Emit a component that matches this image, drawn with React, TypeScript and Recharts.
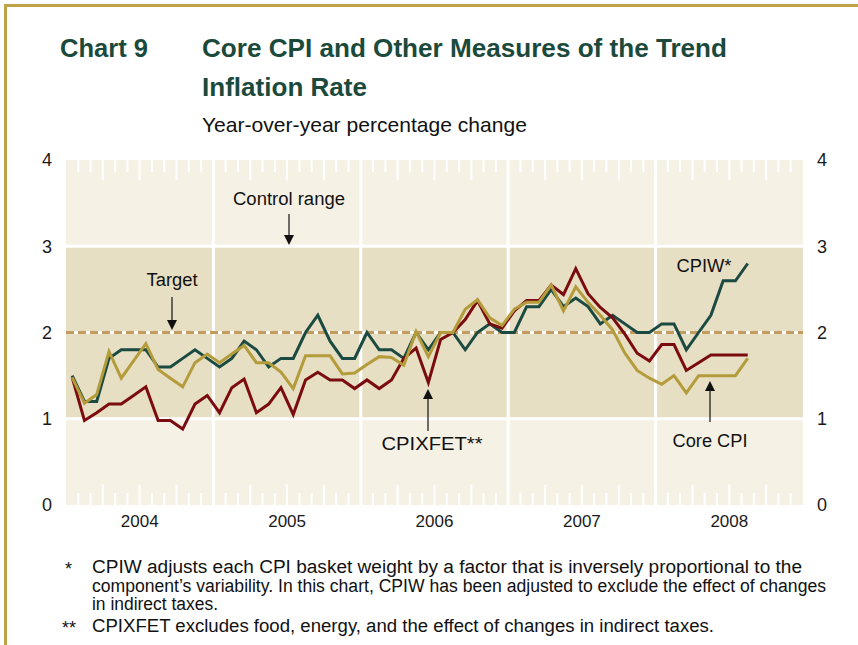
import React from 'react';
import { LineChart, Line, XAxis, YAxis, ReferenceArea, ReferenceLine } from 'recharts';

// monthly, Jan 2004 .. Aug 2008
const years = [2004, 2005, 2006, 2007, 2008];
const cpiw = [
  1.5, 1.2, 1.2, 1.7, 1.8, 1.8, 1.8, 1.6, 1.6, 1.7, 1.8, 1.7,
  1.6, 1.7, 1.9, 1.8, 1.6, 1.7, 1.7, 2.0, 2.2, 1.9, 1.7, 1.7,
  2.0, 1.8, 1.8, 1.7, 2.0, 1.8, 2.0, 2.0, 1.8, 2.0, 2.1, 2.0,
  2.0, 2.3, 2.3, 2.5, 2.3, 2.4, 2.3, 2.1, 2.2, 2.1, 2.0, 2.0,
  2.1, 2.1, 1.8, 2.0, 2.2, 2.6, 2.6, 2.8,
];
const cpixfet = [
  1.48, 0.98, 1.07, 1.17, 1.17, 1.27, 1.37, 0.98, 0.98, 0.88, 1.17, 1.27,
  1.07, 1.36, 1.46, 1.07, 1.17, 1.36, 1.05, 1.45, 1.54, 1.45, 1.45, 1.35,
  1.45, 1.35, 1.45, 1.7, 1.82, 1.42, 1.92, 2.0, 2.15, 2.37, 2.1, 2.05,
  2.25, 2.37, 2.37, 2.55, 2.44, 2.74, 2.45, 2.29, 2.17, 1.98, 1.76, 1.67,
  1.86, 1.86, 1.56, 1.65, 1.74, 1.74, 1.74, 1.74,
];
const coreCpi = [
  1.48, 1.18, 1.28, 1.78, 1.47, 1.67, 1.87, 1.57, 1.47, 1.37, 1.65, 1.75,
  1.65, 1.75, 1.85, 1.65, 1.65, 1.54, 1.35, 1.73, 1.73, 1.73, 1.52, 1.53,
  1.63, 1.72, 1.71, 1.62, 2.01, 1.72, 2.0, 2.0, 2.27, 2.38, 2.17, 2.08,
  2.27, 2.35, 2.35, 2.55, 2.25, 2.53, 2.35, 2.2, 2.03, 1.76, 1.56, 1.47,
  1.4, 1.5, 1.3, 1.5, 1.5, 1.5, 1.5, 1.7,
];

const yTicks = [0, 1, 2, 3, 4];
const yearTicks = [6, 18, 30, 42, 54];
const yearLines = [12, 24, 36, 48];
const minorMonths = [1, 2, 4, 5, 7, 8, 10, 11];
const majorMonths = [3, 6, 9];

const data = cpiw.map((v, i) => ({
  x: i + 0.5,
  cpiw: v,
  cpixfet: cpixfet[i],
  core: coreCpi[i],
}));

const font = '"Liberation Sans", Arial, sans-serif';
const LIGHT = '#F5F2E5';
const BAND = '#E7DFC3';
const TITLE = '#1B4A3C';

const tickMarks: { m: number; len: number }[] = [];
years.forEach((_, k) => {
  minorMonths.forEach((m) => tickMarks.push({ m: k * 12 + m, len: 0.14 }));
  majorMonths.forEach((m) => tickMarks.push({ m: k * 12 + m, len: 0.235 }));
});

function Arrow({ x, y1, y2 }: { x: number; y1: number; y2: number }) {
  // arrow from y1 to tip at y2
  const dir = y2 > y1 ? 1 : -1;
  return (
    <g>
      <line x1={x} y1={y1} x2={x} y2={y2 - dir * 9} stroke="#111" strokeWidth={1.2} />
      <polygon points={`${x - 5},${y2 - dir * 10} ${x + 5},${y2 - dir * 10} ${x},${y2}`} fill="#111" />
    </g>
  );
}

function T(props: { x: number; y: number; w?: number; size: number; bold?: boolean; fill?: string; anchor?: string; children: React.ReactNode }) {
  const { x, y, w, size, bold, fill, anchor, children } = props;
  return (
    <text
      x={x}
      y={y}
      fontSize={size}
      fontWeight={bold ? 700 : 400}
      fill={fill ?? '#111'}
      textAnchor={anchor ?? 'start'}
      textLength={w}
      lengthAdjust={w ? 'spacingAndGlyphs' : undefined}
    >
      {children}
    </text>
  );
}

export default function App() {
  return (
    <div style={{ position: 'absolute', left: 0, top: 0, width: 858, height: 645, background: '#fff', fontFamily: font, overflow: 'hidden' }}>
      <div style={{ position: 'absolute', left: 4, top: 4, width: 860, height: 650, borderTop: '3px solid #BDA247', borderLeft: '3px solid #BDA247' }} />

      <div style={{ position: 'absolute', left: 0, top: 0 }}>
        <LineChart width={858} height={645} data={data} margin={{ top: 160, right: 25, bottom: 110, left: 36 }}>
          <XAxis
            dataKey="x"
            type="number"
            domain={[0, 60]}
            ticks={yearTicks}
            tickFormatter={(v: number) => String(years[Math.floor(v / 12)])}
            axisLine={false}
            tickLine={false}
            tickSize={0}
            tickMargin={10}
            height={30}
            tick={{ fontSize: 17, fill: '#1a1a1a', fontFamily: font }}
          />
          <YAxis yAxisId="l" domain={[0, 4]} ticks={yTicks} allowDataOverflow axisLine={false} tickLine={false} tickSize={0} tickMargin={14} width={30} tick={{ fontSize: 18, fill: '#1a1a1a', fontFamily: font }} />
          <YAxis yAxisId="r" orientation="right" domain={[0, 4]} ticks={yTicks} allowDataOverflow axisLine={false} tickLine={false} tickSize={0} tickMargin={14} width={30} tick={{ fontSize: 18, fill: '#1a1a1a', fontFamily: font, textAnchor: 'start' }} />

          <ReferenceArea yAxisId="l" x1={0} x2={60} y1={0} y2={4} fill={LIGHT} fillOpacity={1} stroke="none" />
          <ReferenceArea yAxisId="l" x1={0} x2={60} y1={1} y2={3} fill={BAND} fillOpacity={1} stroke="none" />
          {yearLines.map((m) => (
            <ReferenceLine key={'yl' + m} yAxisId="l" x={m} stroke="#fff" strokeWidth={3} />
          ))}
          <ReferenceLine yAxisId="l" y={1} stroke="#fff" strokeWidth={3} />
          <ReferenceLine yAxisId="l" y={3} stroke="#fff" strokeWidth={3} />
          {tickMarks.map((t) => (
            <ReferenceLine key={'tt' + t.m} yAxisId="l" segment={[{ x: t.m, y: 4 }, { x: t.m, y: 4 - t.len }]} stroke="#fff" strokeWidth={2} />
          ))}
          {tickMarks.map((t) => (
            <ReferenceLine key={'tb' + t.m} yAxisId="l" segment={[{ x: t.m, y: 0 }, { x: t.m, y: t.len }]} stroke="#fff" strokeWidth={2} />
          ))}
          <ReferenceLine yAxisId="l" y={2} stroke="#fff" strokeWidth={3} />
          <ReferenceLine yAxisId="l" y={2} stroke="#C29B5E" strokeWidth={3} strokeDasharray="8 4" />

          <Line yAxisId="l" type="linear" dataKey="cpiw" stroke="#1A4A42" strokeWidth={3} dot={false} isAnimationActive={false} />
          <Line yAxisId="l" type="linear" dataKey="cpixfet" stroke="#7A0C10" strokeWidth={3} dot={false} isAnimationActive={false} />
          <Line yAxisId="l" type="linear" dataKey="core" stroke="#B49B3B" strokeWidth={3} dot={false} isAnimationActive={false} />
        </LineChart>
      </div>

      <svg width={858} height={645} style={{ position: 'absolute', left: 0, top: 0, pointerEvents: 'none' }} fontFamily={font}>
        <T x={60} y={57} w={88} size={26} bold fill={TITLE}>Chart 9</T>
        <T x={202} y={57} w={525} size={26} bold fill={TITLE}>Core CPI and Other Measures of the Trend</T>
        <T x={202} y={96} w={165} size={26} bold fill={TITLE}>Inflation Rate</T>
        <T x={202} y={132} w={325} size={21}>Year-over-year percentage change</T>

        <T x={289} y={205} w={112} size={18} anchor="middle">Control range</T>
        <T x={172} y={286} w={51} size={18} anchor="middle">Target</T>
        <T x={432} y={450} w={101} size={18} anchor="middle">CPIXFET**</T>
        <T x={710} y={447} w={75} size={18} anchor="middle">Core CPI</T>
        <T x={704} y={272} w={55} size={18} anchor="middle">CPIW*</T>
        <Arrow x={289} y1={214} y2={245} />
        <Arrow x={172} y1={297} y2={330} />
        <Arrow x={428} y1={431} y2={389} />
        <Arrow x={710} y1={422} y2={381} />

        <T x={65} y={575} size={18}>*</T>
        <T x={92} y={573} w={710} size={18}>CPIW adjusts each CPI basket weight by a factor that is inversely proportional to the</T>
        <T x={92} y={592} w={734} size={18}>component’s variability. In this chart, CPIW has been adjusted to exclude the effect of changes</T>
        <T x={92} y={610} w={126} size={18}>in indirect taxes.</T>
        <T x={62} y={634} size={18}>**</T>
        <T x={92} y={632} w={622} size={18}>CPIXFET excludes food, energy, and the effect of changes in indirect taxes.</T>
      </svg>
    </div>
  );
}
